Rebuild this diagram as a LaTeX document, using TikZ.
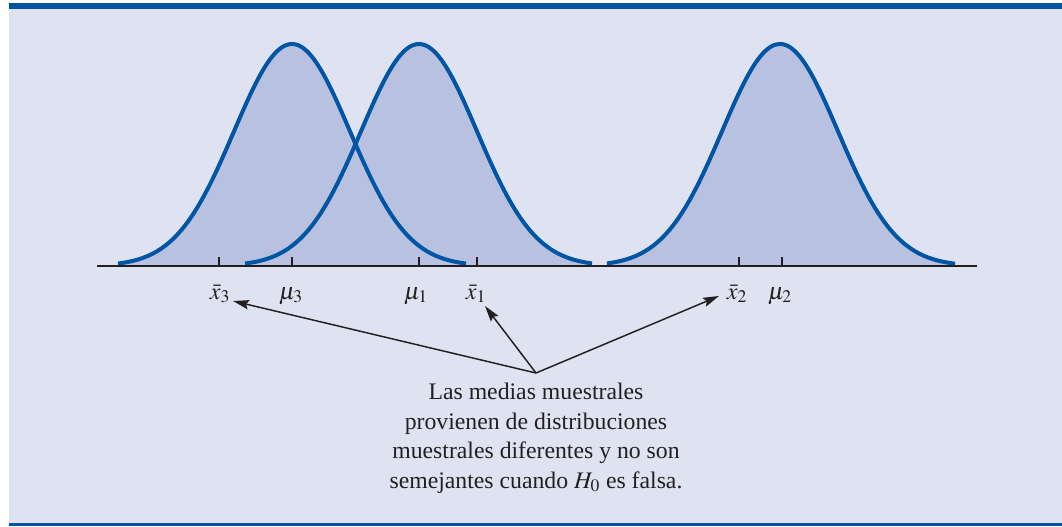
\documentclass[tikz,border=0pt]{standalone}
\usepackage{mathptmx}
\usepackage{fontspec}
\setmainfont{Liberation Serif}
\usetikzlibrary{arrows.meta}

\definecolor{panel}{RGB}{223,227,241}
\definecolor{band}{RGB}{0,84,159}
\definecolor{shade}{RGB}{184,193,224}
\definecolor{curveblue}{RGB}{0,85,164}
\definecolor{ink}{RGB}{35,31,32}

\begin{document}
\begin{tikzpicture}[x=0.75pt,y=-0.75pt,
    bell/.style={line width=3pt, draw=curveblue, line join=round},
    under/.style={fill=shade},
    tickmark/.style={line width=1.4pt, draw=ink},
    lab/.style={font=\fontsize{18}{20}\selectfont, anchor=base, inner sep=1pt, text=ink},
    note/.style={align=center, font=\fontsize{17.8}{22.1}\selectfont, inner sep=0pt, text=ink},
    arr/.style={-{Stealth[length=12pt,width=7pt,inset=2pt]}, line width=1.1pt, draw=ink}]
  \useasboundingbox (0,0) rectangle (1062,526);

  % Panel and bands
  \fill[panel] (9,3) rectangle (1062,526);
  \fill[band] (9,3) rectangle (1062,8.7);
  \fill[band] (9,522.5) rectangle (1062,526);

  % Areas under the three sampling distributions
  \foreach \m/\a/\b in {292/118/466, 419/245/592, 780/607/955}
    \fill[under] (\a,266) -- plot[domain=\a:\b, samples=90]
      (\x,{266-222*exp(-0.5*((\x-\m)/58)^2)}) -- (\b,266) -- cycle;

  % Curves
  \foreach \m/\a/\b in {292/118/466, 419/245/592, 780/607/955}
    \draw[bell] plot[domain=\a:\b, samples=90, smooth]
      (\x,{266-222*exp(-0.5*((\x-\m)/58)^2)});

  % Axis and ticks
  \draw[line width=1.4pt, draw=ink] (97,266) -- (977,266);
  \foreach \t in {219,292,419,477,739,782}
    \draw[tickmark] (\t,257) -- (\t,266);

  % Labels
  \node[lab] (xb3) at (220,299) {$\bar{x}_3$};
  \node[lab] (mu3) at (291,299) {$\mu_3$};
  \node[lab] (mu1) at (416,299) {$\mu_1$};
  \node[lab] (xb1) at (476,299) {$\bar{x}_1$};
  \node[lab] (xb2) at (737,299) {$\bar{x}_2$};
  \node[lab] (mu2) at (780,299) {$\mu_2$};

  % Note
  \node[note, anchor=north] (txt) at (536,383)
    {Las medias muestrales\\provienen de distribuciones\\muestrales diferentes y no son\\semejantes cuando $H_0$ es falsa.};
  \coordinate (hub) at (536,373);

  % Arrows to the sample means
  \coordinate (t3) at (233,301);
  \coordinate (t1) at (485,306);
  \coordinate (t2) at (719,296);
  \draw[arr] (hub) -- (t3);
  \draw[arr] (hub) -- (t1);
  \draw[arr] (hub) -- (t2);
\end{tikzpicture}
\end{document}
